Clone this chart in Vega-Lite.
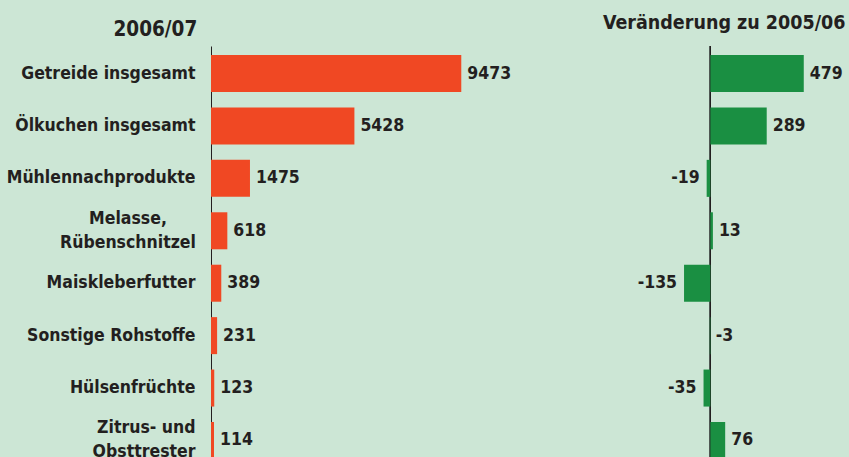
{
  "$schema": "https://vega.github.io/schema/vega-lite/v6.json",
  "width": 638,
  "height": 422,
  "autosize": {"type": "none"},
  "padding": {"left": 211, "top": 46, "right": 0, "bottom": 0},
  "background": "#cce6d5",
  "config": {
    "view": {"stroke": null},
    "font": "DejaVu Sans Condensed, Roboto, sans-serif",
    "text": {"font": "DejaVu Sans Condensed, Roboto, sans-serif", "fontWeight": "bold", "fontSize": 17.5, "color": "#231f20", "baseline": "middle"},
    "axis": {"labelFont": "DejaVu Sans Condensed, Roboto, sans-serif", "titleFont": "DejaVu Sans Condensed, Roboto, sans-serif"}
  },
  "data": {
    "values": [
      {"cat": "Getreide insgesamt", "value": 9473, "change": 479},
      {"cat": "Ölkuchen insgesamt", "value": 5428, "change": 289},
      {"cat": "Mühlennachprodukte", "value": 1475, "change": -19},
      {"cat": "Melasse, Rübenschnitzel", "value": 618, "change": 13},
      {"cat": "Maiskleberfutter", "value": 389, "change": -135},
      {"cat": "Sonstige Rohstoffe", "value": 231, "change": -3},
      {"cat": "Hülsenfrüchte", "value": 123, "change": -35},
      {"cat": "Zitrus- und Obsttrester", "value": 114, "change": 76}
    ]
  },
  "layer": [
    {
      "encoding": {
        "x": {"field": "value", "type": "quantitative", "scale": {"domain": [0, 24148], "nice": false}, "axis": null},
        "y": {
          "field": "cat",
          "type": "nominal",
          "sort": null,
          "scale": {"paddingInner": 0.294, "paddingOuter": 0.172},
          "axis": {
            "title": "2006/07",
            "titleAngle": 0,
            "titleX": -98,
            "titleY": -11,
            "titleAlign": "left",
            "titleBaseline": "alphabetic",
            "titleFontSize": 20.5,
            "titleFontWeight": "bold",
            "titleColor": "#231f20",
            "domain": true,
            "domainColor": "#231f20",
            "domainWidth": 1,
            "ticks": false,
            "grid": false,
            "labelPadding": {"condition": {"test": "datum.value == 'Melasse, Rübenschnitzel'", "value": 83.5}, "value": 16},
            "labelAlign": {"condition": {"test": "datum.value == 'Melasse, Rübenschnitzel'", "value": "center"}, "value": "right"},
            "labelFontSize": 17.5,
            "labelFontWeight": "bold",
            "labelColor": "#231f20",
            "labelLimit": 300,
            "labelLineHeight": 24,
            "labelOffset": {"condition": {"test": "datum.value == 'Melasse, Rübenschnitzel' || datum.value == 'Zitrus- und Obsttrester'", "value": -12}, "value": 0},
            "labelExpr": "datum.value == 'Melasse, Rübenschnitzel' ? ['Melasse,', 'Rübenschnitzel'] : datum.value == 'Zitrus- und Obsttrester' ? ['Zitrus- und', 'Obsttrester'] : datum.value"
          }
        }
      },
      "layer": [
        {"mark": {"type": "bar", "color": "#f04823"}},
        {"mark": {"type": "text", "align": "left", "dx": 6}, "encoding": {"text": {"field": "value"}}}
      ]
    },
    {
      "layer": [
        {
          "mark": {"type": "rule", "color": "#231f20", "strokeWidth": 1},
          "encoding": {
            "x": {
              "datum": 0,
              "type": "quantitative",
              "scale": {"domain": [-2561, 711], "nice": false, "zero": false},
              "axis": {
                "orient": "top",
                "title": "Veränderung zu 2005/06",
                "titleX": 634,
                "titleY": -18,
                "titleAlign": "right",
                "titleAnchor": null,
                "titleBaseline": "alphabetic",
                "titleFontSize": 19.5,
                "titleFontWeight": "bold",
                "titleColor": "#231f20",
                "labels": false,
                "ticks": false,
                "domain": false,
                "grid": false
              }
            }
          }
        },
        {
          "mark": {"type": "bar", "color": "#1a8f42"},
          "encoding": {"x": {"field": "change", "type": "quantitative"}, "y": {"field": "cat", "type": "nominal", "sort": null}}
        },
        {
          "transform": [{"filter": "datum.change >= -5"}],
          "mark": {"type": "text", "align": "left", "dx": 6},
          "encoding": {"x": {"field": "change", "type": "quantitative"}, "y": {"field": "cat", "type": "nominal", "sort": null}, "text": {"field": "change"}}
        },
        {
          "transform": [{"filter": "datum.change < -5"}],
          "mark": {"type": "text", "align": "right", "dx": -7},
          "encoding": {"x": {"field": "change", "type": "quantitative"}, "y": {"field": "cat", "type": "nominal", "sort": null}, "text": {"field": "change"}}
        }
      ]
    }
  ],
  "resolve": {"scale": {"x": "independent"}, "axis": {"x": "independent"}}
}
